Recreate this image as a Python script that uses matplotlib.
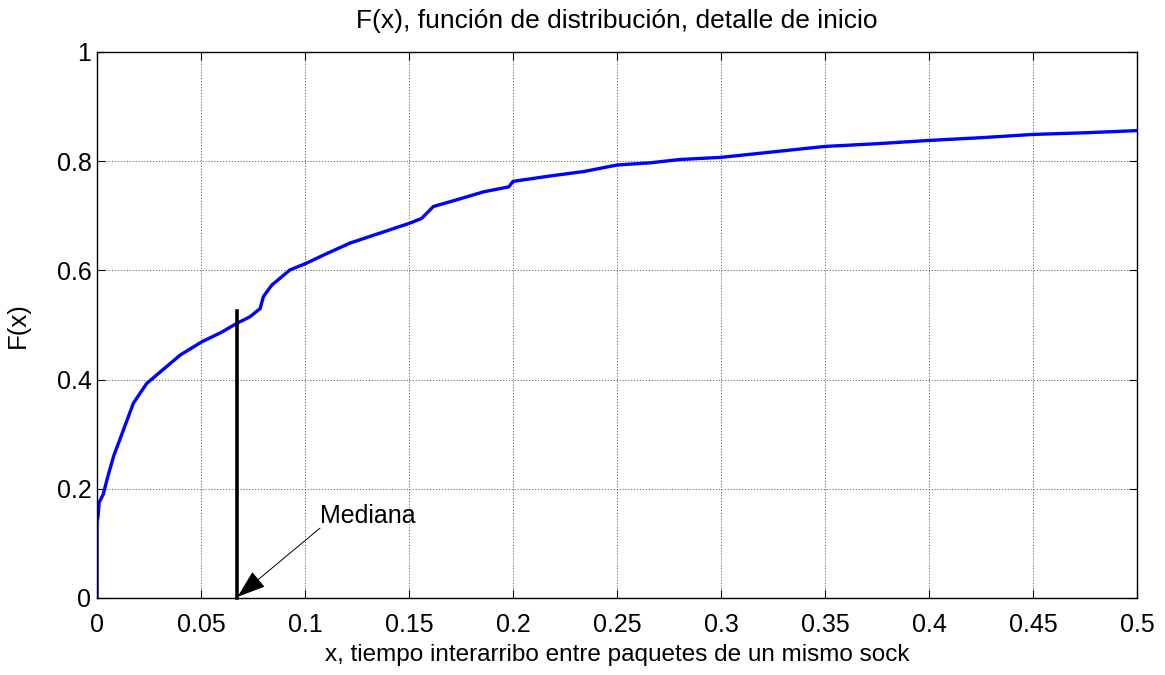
import matplotlib
matplotlib.use("Agg")
import matplotlib.pyplot as plt

x_vals = [0, 0, 0.0005, 0.001, 0.003, 0.005, 0.008, 0.0127, 0.0175, 0.0239,
          0.0335, 0.040, 0.0503, 0.060, 0.0672, 0.0735, 0.0784, 0.080, 0.084,
          0.0928, 0.100, 0.110, 0.1216, 0.135, 0.150, 0.156, 0.1617, 0.170,
          0.186, 0.198, 0.200, 0.218, 0.234, 0.250, 0.266, 0.280, 0.300,
          0.325, 0.350, 0.375, 0.400, 0.425, 0.450, 0.475, 0.500]
F_vals = [0, 0.14, 0.15, 0.175, 0.19, 0.22, 0.26, 0.308, 0.357, 0.393,
          0.424, 0.445, 0.469, 0.487, 0.503, 0.515, 0.53, 0.552, 0.573,
          0.601, 0.612, 0.630, 0.650, 0.667, 0.686, 0.695, 0.717, 0.726,
          0.744, 0.753, 0.763, 0.773, 0.781, 0.793, 0.797, 0.803, 0.807,
          0.817, 0.827, 0.832, 0.838, 0.843, 0.849, 0.852, 0.856]

mediana_x = 0.0675
mediana_top = 0.525

xticks = [0, 0.05, 0.1, 0.15, 0.2, 0.25, 0.3, 0.35, 0.4, 0.45, 0.5]
xticklabels = ["0", "0.05", "0.1", "0.15", "0.2", "0.25", "0.3", "0.35", "0.4", "0.45", "0.5"]
yticks = [0, 0.2, 0.4, 0.6, 0.8, 1]
yticklabels = ["0", "0.2", "0.4", "0.6", "0.8", "1"]

plt.rcParams['font.family'] = ['Liberation Sans', 'DejaVu Sans']

fig = plt.figure(figsize=(11.65, 6.75), dpi=100)
ax = fig.add_axes([0.0833, 0.1141, 0.8927, 0.8089])

ax.plot(x_vals, F_vals, color='#0000ff', lw=2.4, solid_joinstyle='miter')
ax.plot([mediana_x, mediana_x], [0, mediana_top], color='black', lw=2.6, clip_on=False)

ax.annotate('', xy=(mediana_x, 0.002), xytext=(0.1072, 0.128),
            arrowprops=dict(arrowstyle='-|>,head_length=1.3,head_width=0.45',
                            color='black', lw=0.7, mutation_scale=14,
                            shrinkA=0, shrinkB=0))
ax.text(0.1072, 0.151, 'Mediana', fontsize=18, va='center', ha='left')

ax.set_xlim(0, 0.5)
ax.set_ylim(0, 1)
ax.set_xticks(xticks)
ax.set_xticklabels(xticklabels)
ax.set_yticks(yticks)
ax.set_yticklabels(yticklabels)
ax.tick_params(direction='in', length=6, width=0.8, labelsize=18,
               top=True, right=True, pad=4)
ax.tick_params(axis='x', pad=11)
ax.grid(True, color='#555555', linestyle=(0, (1.5, 2)), lw=0.6)
for s in ax.spines.values():
    s.set_linewidth(1.0)

ax.set_title('F(x), función de distribución, detalle de inicio', fontsize=19, pad=17)
ax.set_xlabel('x, tiempo interarribo entre paquetes de un mismo sock', fontsize=17.5, labelpad=5)
ax.set_ylabel('F(x)', fontsize=18.5, labelpad=19)

fig.savefig('out.png', dpi=100)
